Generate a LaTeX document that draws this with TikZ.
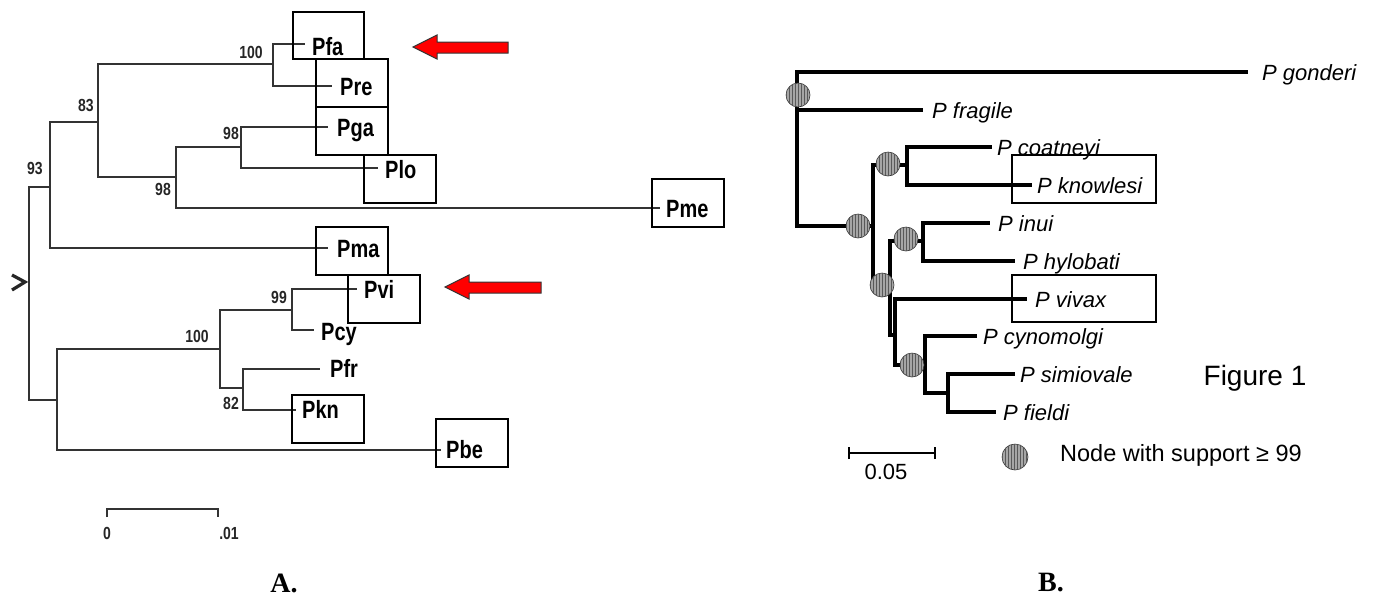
\documentclass[tikz,border=0pt]{standalone}
\usepackage{fontspec}
\setmainfont{Liberation Serif}
\newfontfamily\sansf{Liberation Sans}
\newfontfamily\narrowf[FakeStretch=0.8]{Liberation Sans}
\usetikzlibrary{patterns}
\begin{document}
\begin{tikzpicture}[x=1pt,y=-1pt,
  treeA/.style={line width=2.4pt, draw=black!80},
  treeB/.style={line width=3.5pt, draw=black},
  boxline/.style={line width=1.5pt, draw=black},
  tipA/.style={anchor=base west, inner sep=0pt, font=\narrowf\bfseries\fontsize{25}{25}\selectfont},
  numA/.style={anchor=center, inner sep=0pt, font=\narrowf\bfseries\fontsize{17.5}{17.5}\selectfont, text=black!85},
  tipB/.style={anchor=base west, inner sep=0pt, font=\sansf\itshape\fontsize{22}{22}\selectfont},
  hatchnode/.style={circle, minimum size=24pt, inner sep=0pt, fill=gray!70, draw=gray!40!black, line width=0.6pt,
     postaction={pattern=vertical lines, pattern color=black!65}},
  redarrow/.style={fill=red, draw=black!80, line width=1pt, line join=miter},
  panel/.style={anchor=center, inner sep=0pt, font=\bfseries\fontsize{28}{28}\selectfont}
]
\useasboundingbox (0,0) rectangle (1375,598);
\fill[white] (0,0) rectangle (1375,598);

% ===================== Tree A =====================
\coordinate (R) at (29,282);
\coordinate (n93) at (50,187);
\coordinate (n83) at (98,122);
\coordinate (n100a) at (273,64);
\coordinate (n98b) at (176,177);
\coordinate (n98a) at (241,147);
\coordinate (nL) at (57,400);
\coordinate (n100b) at (220,349);
\coordinate (n99) at (292,310);
\coordinate (n82) at (243,388);
\coordinate (tPfa) at (305,44);
\coordinate (tPre) at (332,86);
\coordinate (tPga) at (328,127);
\coordinate (tPlo) at (378,168);
\coordinate (tPme) at (660,208);
\coordinate (tPma) at (328,248);
\coordinate (tPvi) at (357,289);
\coordinate (tPcy) at (314,330);
\coordinate (tPfr) at (320,369);
\coordinate (tPkn) at (296,410);
\coordinate (tPbe) at (441,450);

\draw[treeA] (R) |- (n93) (R) |- (nL)
  (n93) |- (n83) (n93) |- (tPma)
  (n83) |- (n100a) (n83) |- (n98b)
  (n100a) |- (tPfa) (n100a) |- (tPre)
  (n98b) |- (n98a) (n98b) |- (tPme)
  (n98a) |- (tPga) (n98a) |- (tPlo)
  (nL) |- (n100b) (nL) |- (tPbe)
  (n100b) |- (n99) (n100b) |- (n82)
  (n99) |- (tPvi) (n99) |- (tPcy)
  (n82) |- (tPfr) (n82) |- (tPkn);

% root marker
\draw[line width=3.2pt, draw=black!85, line join=miter] (12,275) -- (25,282) -- (12,290);

% tip labels
\node[tipA] (lPfa) at (312,55) {Pfa};
\node[tipA] (lPre) at (340,95) {Pre};
\node[tipA] (lPga) at (337,136) {Pga};
\node[tipA] (lPlo) at (385,178) {Plo};
\node[tipA] (lPme) at (666,217) {Pme};
\node[tipA] (lPma) at (337,257) {Pma};
\node[tipA] (lPvi) at (364,298) {Pvi};
\node[tipA] (lPcy) at (321,340) {Pcy};
\node[tipA] (lPfr) at (330,377) {Pfr};
\node[tipA] (lPkn) at (302,418) {Pkn};
\node[tipA] (lPbe) at (446,458) {Pbe};

% support values
\node[numA] (s100a) at (251,52) {100};
\node[numA] (s83) at (86,105) {83};
\node[numA] (s98a) at (231,133) {98};
\node[numA] (s98b) at (163,189) {98};
\node[numA] (s93) at (35,168) {93};
\node[numA] (s100b) at (197,336) {100};
\node[numA] (s99) at (279,297) {99};
\node[numA] (s82) at (231,403) {82};

% boxes
\draw[boxline] (293,12) rectangle (364,59);
\draw[boxline] (316,59) rectangle (388,107);
\draw[boxline] (316,107) rectangle (388,155);
\draw[boxline] (364,155) rectangle (436,203);
\draw[boxline] (652,179) rectangle (724,227);
\draw[boxline] (316,227) rectangle (388,275);
\draw[boxline] (348,275) rectangle (420,323);
\draw[boxline] (292,395) rectangle (364,443);
\draw[boxline] (436,419) rectangle (508,467);

% red arrows
\draw[redarrow] (413,47) -- (437,35) -- (437,42) -- (508,42) -- (508,53) -- (437,53) -- (437,59) -- cycle;
\draw[redarrow] (445,287) -- (469,275) -- (469,282) -- (541,282) -- (541,293) -- (469,293) -- (469,299) -- cycle;

% scale bar A
\coordinate (sa1) at (107,509);
\coordinate (sa2) at (218,509);
\draw[treeA] ([yshift=-8pt]sa1) -- (sa1) -- (sa2) -- ([yshift=-8pt]sa2);
\node[numA] (sa0) at (107,533) {0};
\node[numA] (sa01) at (229,533) {.01};

\node[panel] (labA) at (284,583) {A.};

% ===================== Tree B =====================
\coordinate (RR) at (797,110);
\coordinate (M) at (873,226);
\coordinate (C1) at (907,165);
\coordinate (C2) at (890,285);
\coordinate (C3) at (923,241);
\coordinate (C4) at (895,335);
\coordinate (C5) at (925,365);
\coordinate (C6) at (948,393);
\coordinate (tGon) at (1248,72);
\coordinate (tFra) at (923,110);
\coordinate (tCoa) at (992,147);
\coordinate (tKno) at (1032,185);
\coordinate (tInu) at (990,223);
\coordinate (tHyl) at (1015,261);
\coordinate (tViv) at (1027,299);
\coordinate (tCyn) at (977,336);
\coordinate (tSim) at (1015,374);
\coordinate (tFie) at (996,412);

\draw[treeB] (RR) |- (tGon) (RR) -- (tFra) (RR) |- (M)
  (M) |- (C1) (M) |- (C2)
  (C1) |- (tCoa) (C1) |- (tKno)
  (C2) |- (C3) (C2) |- (C4)
  (C3) |- (tInu) (C3) |- (tHyl)
  (C4) |- (tViv) (C4) |- (C5)
  (C5) |- (tCyn) (C5) |- (C6)
  (C6) |- (tSim) (C6) |- (tFie);

\node[hatchnode] (cRoot) at (798,95) {};
\node[hatchnode] (cM) at (858,226) {};
\node[hatchnode] (cC1) at (888,164) {};
\node[hatchnode] (cC2) at (882,285) {};
\node[hatchnode] (cC3) at (906,239) {};
\node[hatchnode] (cC5) at (912,365) {};

\node[tipB] (lGon) at (1262,80) {P gonderi};
\node[tipB] (lFra) at (932,118) {P fragile};
\node[tipB] (lCoa) at (997,155) {P coatneyi};
\node[tipB] (lKno) at (1037,193) {P knowlesi};
\node[tipB] (lInu) at (998,231) {P inui};
\node[tipB] (lHyl) at (1023,269) {P hylobati};
\node[tipB] (lViv) at (1035,307) {P vivax};
\node[tipB] (lCyn) at (983,344) {P cynomolgi};
\node[tipB] (lSim) at (1020,382) {P simiovale};
\node[tipB] (lFie) at (1003,420) {P fieldi};

\draw[boxline] (1012,155) rectangle (1156,203);
\draw[boxline] (1012,275) rectangle (1156,322);

\node[anchor=center, inner sep=0pt, font=\sansf\fontsize{28}{28}\selectfont] (fig) at (1255,378) {Figure 1};

% scale bar B
\coordinate (sb1) at (849,453);
\coordinate (sb2) at (935,453);
\draw[line width=2pt] ([yshift=-6pt]sb1) -- ([yshift=6pt]sb1) (sb1) -- (sb2) ([yshift=-6pt]sb2) -- ([yshift=6pt]sb2);
\node[anchor=center, inner sep=0pt, font=\sansf\fontsize{22}{22}\selectfont] (sb) at (886,472) {0.05};

% legend
\node[hatchnode, minimum width=24pt, minimum height=26pt] (leg) at (1015,457) {};
\node[anchor=base west, inner sep=0pt, font=\sansf\fontsize{23.5}{23.5}\selectfont] (legtxt) at (1060,461) {Node with support ≥ 99};

\node[panel] (labB) at (1051,583) {B.};
\end{tikzpicture}
\end{document}
